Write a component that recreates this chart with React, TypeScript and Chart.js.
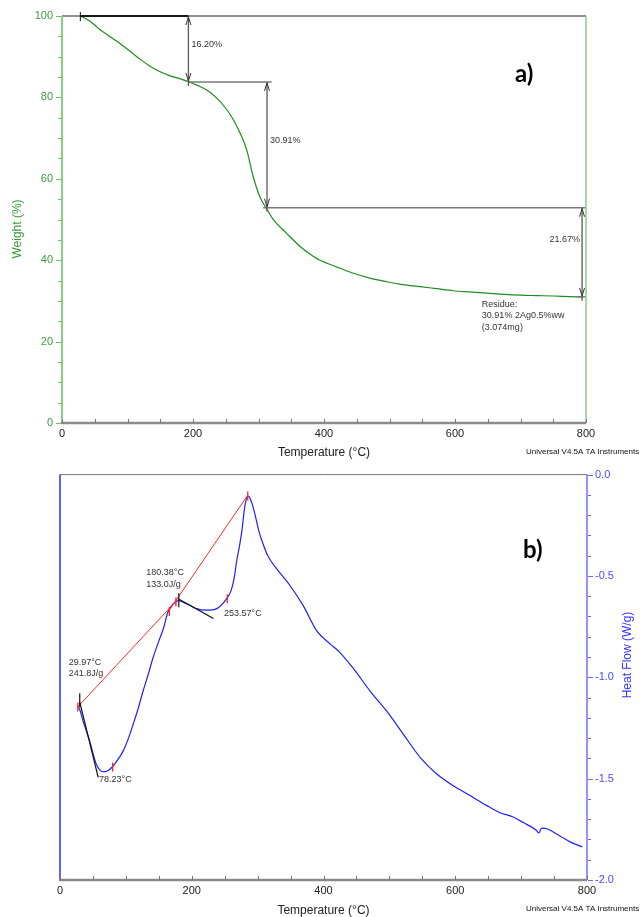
import React, { useEffect, useRef } from 'react';
import { Chart, registerables } from 'chart.js';
Chart.register(...registerables);

// ---------------- data: a) TGA ----------------
const xTickValues = [0, 200, 400, 600, 800];
const weightTicks = [0, 20, 40, 60, 80, 100];
const tgaTemp = [28, 38, 50, 58, 70, 89, 105, 119, 135, 150, 165, 180, 194, 208, 221, 236, 252, 262, 272, 282, 292, 302, 313, 323, 343, 364, 384, 394, 420, 445, 470, 496, 520, 547, 572, 597, 622, 649, 675, 700, 725, 750, 775, 795];
const tgaWeight = [100, 99.2, 97.8, 96.6, 95.3, 93.2, 91.2, 89.4, 87.6, 86.3, 85.3, 84.6, 83.8, 82.9, 81.8, 79.9, 76.9, 74.4, 71.2, 67.1, 60.5, 55.6, 52.5, 49.9, 46.6, 43.3, 40.9, 40.0, 38.3, 36.8, 35.6, 34.7, 34.0, 33.5, 33.0, 32.5, 32.2, 31.9, 31.6, 31.4, 31.3, 31.2, 31.05, 30.95];
const stepTemps = [193, 313, 794];
const stepLevels = [100, 83.8, 52.9, 31.0];
const stepLabels = ['16.20%', '30.91%', '21.67%'];
const stepLabelWeights = [93.1, 69.4, 45.0];
const levelStart = [28, 193, 307, 786];
const levelEnd = [193, 320, 800, 800];
const residueText = ['Residue:', '30.91% 2Ag0.5%ww', '(3.074mg)'];
const residueTemp = 641;
const residueWeight = 29.2;

// ---------------- data: b) DSC ----------------
const heatTicks = [0, -0.5, -1.0, -1.5, -2.0];
const dscTemp = [27, 30, 35, 45, 55, 65, 72, 80, 88, 96, 104, 111, 119, 126, 134, 141, 149, 157, 164, 172, 180, 192, 207, 222, 238, 253, 260, 265, 268, 272, 276, 280, 283, 286, 289, 294, 302, 308, 314, 320, 329, 349, 369, 390, 410, 425, 445, 471, 496, 521, 547, 572, 597, 623, 648, 668, 686, 704, 722, 727, 731, 739, 760, 775, 793];
const dscHeatFlow = [-1.146, -1.16, -1.216, -1.314, -1.428, -1.466, -1.462, -1.44, -1.405, -1.363, -1.30, -1.232, -1.15, -1.069, -0.985, -0.906, -0.83, -0.759, -0.677, -0.637, -0.622, -0.637, -0.661, -0.669, -0.661, -0.612, -0.57, -0.50, -0.43, -0.36, -0.28, -0.17, -0.12, -0.106, -0.12, -0.17, -0.28, -0.34, -0.39, -0.425, -0.465, -0.547, -0.645, -0.772, -0.835, -0.878, -0.955, -1.069, -1.167, -1.28, -1.396, -1.477, -1.535, -1.584, -1.633, -1.668, -1.687, -1.718, -1.752, -1.768, -1.744, -1.747, -1.785, -1.813, -1.837];
const baseline1Temp = [27, 176];
const baseline1HF = [-1.146, -0.625];
const baseline2Temp = [166, 284];
const baseline2HF = [-0.669, -0.106];
const tangent1Temp = [30, 58];
const tangent1HF = [-1.122, -1.494];
const tangent2Temp = [180, 233];
const tangent2HF = [-0.614, -0.71];
const limitTemp = [27, 80, 166, 176, 254, 285];
const limitHF = [-1.146, -1.443, -0.675, -0.627, -0.612, -0.106];
const onsetTemp = [29.97, 180.38];
const onsetHF = [-1.113, -0.62];
const dscLabelLines = [['29.97°C', '241.8J/g'], ['180.38°C', '133.0J/g'], ['253.57°C'], ['78.23°C']];
const dscLabelTemp = [13.2, 131, 249, 59.3];
const dscLabelHF = [-0.926, -0.485, -0.686, -1.505];

const FONT = "'Liberation Sans', Arial, Helvetica, sans-serif";

function seg(xs: number[], ys: number[]) {
  return xs.map((x, i) => ({ x, y: ys[i] }));
}
function lineDs(data: any[], color: string, width: number, extra: any = {}) {
  return { data, borderColor: color, borderWidth: width, pointRadius: 0, pointHoverRadius: 0, pointHitRadius: 0, fill: false, tension: 0, clip: false, ...extra };
}
function ln(ctx: CanvasRenderingContext2D, x1: number, y1: number, x2: number, y2: number, color: string, w: number) {
  ctx.beginPath();
  ctx.strokeStyle = color;
  ctx.lineWidth = w;
  ctx.moveTo(x1, y1);
  ctx.lineTo(x2, y2);
  ctx.stroke();
}
function chevron(ctx: CanvasRenderingContext2D, px: number, tipY: number, dir: number) {
  ctx.beginPath();
  ctx.strokeStyle = '#333';
  ctx.lineWidth = 1;
  ctx.moveTo(px - 2.5, tipY - dir * 8);
  ctx.lineTo(px, tipY);
  ctx.lineTo(px + 2.5, tipY - dir * 8);
  ctx.stroke();
}
function txt(ctx: CanvasRenderingContext2D, s: string, x: number, y: number, font: string, color: string, align: CanvasTextAlign = 'left', rot = 0) {
  ctx.save();
  ctx.font = font;
  ctx.fillStyle = color;
  ctx.textAlign = align;
  ctx.textBaseline = 'middle';
  ctx.translate(x, y);
  if (rot) ctx.rotate(rot);
  ctx.fillText(s, 0, 0);
  ctx.restore();
}

function xScaleOpts() {
  return {
    type: 'linear', min: 0, max: 800,
    afterBuildTicks: (s: any) => { s.ticks = xTickValues.map((v) => ({ value: v })); },
    ticks: { color: '#222', font: { family: FONT, size: 11 }, padding: 4, maxRotation: 0, autoSkip: false },
    grid: { display: false, drawTicks: false },
    border: { display: false },
    afterFit: (s: any) => { s.height = 37; },
  };
}

const tgaDecor = {
  id: 'tgaDecor',
  afterDraw(chart: any) {
    const { ctx, chartArea: ca } = chart;
    const x = chart.scales.x, y = chart.scales.y;
    ctx.save();
    ln(ctx, ca.left, ca.top, ca.right, ca.top, '#222', 1);
    ln(ctx, ca.right, ca.top, ca.right, ca.bottom, '#86cf86', 1.5);
    ln(ctx, ca.left, ca.top, ca.left, ca.bottom, '#86cf86', 2);
    ln(ctx, ca.left - 1, ca.bottom, ca.right, ca.bottom, '#8a8a8a', 2.5);
    for (let v = 0; v <= 100; v += 5) {
      const py = Math.round(y.getPixelForValue(v)) + 0.5;
      const len = v % 20 === 0 ? 5 : 3;
      ln(ctx, ca.left - 1 - len, py, ca.left - 1, py, '#6cbf6c', 1);
    }
    for (let v = 0; v <= 800; v += 50) {
      const px = Math.round(x.getPixelForValue(v)) + 0.5;
      ln(ctx, px, ca.bottom - 4, px, ca.bottom, '#777', 1);
    }
    const sx = x.getPixelForValue(levelStart[0]);
    const sy = y.getPixelForValue(stepLevels[0]);
    ln(ctx, sx, sy - 4, sx, sy + 5, '#111', 1);
    stepTemps.forEach((t, i) => {
      const px = x.getPixelForValue(t);
      const yTop = y.getPixelForValue(stepLevels[i]);
      const yBot = y.getPixelForValue(stepLevels[i + 1]);
      chevron(ctx, px, yTop + 1, -1);
      chevron(ctx, px, yBot - 1, 1);
      ln(ctx, px, yBot, px, yBot + 4, '#5a5a5a', 1.3);
      const ly = y.getPixelForValue(stepLabelWeights[i]);
      if (i < 2) txt(ctx, stepLabels[i], px + 3, ly, `9px ${FONT}`, '#333', 'left');
      else txt(ctx, stepLabels[i], px - 2, ly, `9px ${FONT}`, '#333', 'right');
    });
    const rx = x.getPixelForValue(residueTemp);
    const ry = y.getPixelForValue(residueWeight);
    residueText.forEach((s, i) => txt(ctx, s, rx, ry + i * 11.8, `9px ${FONT}`, '#333', 'left'));
    txt(ctx, 'Weight (%)', 18, 229, `12px ${FONT}`, '#3a9a3a', 'center', -Math.PI / 2);
    txt(ctx, 'Temperature (°C)', (ca.left + ca.right) / 2, 453, `12px ${FONT}`, '#222', 'center');
    txt(ctx, 'Universal V4.5A TA Instruments', 526, 452, `8px ${FONT}`, '#111', 'left');
    txt(ctx, 'a)', 515, 74, `bold 24px Lato, 'Open Sans', sans-serif`, '#000', 'left');
    ctx.restore();
  },
};

const dscDecor = {
  id: 'dscDecor',
  afterDraw(chart: any) {
    const { ctx, chartArea: ca } = chart;
    const x = chart.scales.x, y = chart.scales.y;
    ctx.save();
    ln(ctx, ca.left, ca.top, ca.right, ca.top, '#777', 1);
    ln(ctx, ca.left, ca.top, ca.left, ca.bottom, '#2b2bff', 1.5);
    ln(ctx, ca.right, ca.top, ca.right, ca.bottom, '#7070ff', 1.5);
    ln(ctx, ca.left - 1, ca.bottom, ca.right, ca.bottom, '#8a8a8a', 2.5);
    for (let k = 0; k <= 20; k++) {
      const v = -k / 10;
      const py = Math.round(y.getPixelForValue(v)) + 0.5;
      const len = k % 5 === 0 ? 5 : 3;
      ln(ctx, ca.right + 1, py, ca.right + 1 + len, py, '#6b6bff', 1);
    }
    for (let v = 0; v <= 800; v += 50) {
      const px = Math.round(x.getPixelForValue(v)) + 0.5;
      ln(ctx, px, ca.bottom - 4, px, ca.bottom, '#777', 1);
    }
    limitTemp.forEach((t, i) => {
      const px = x.getPixelForValue(t), py = y.getPixelForValue(limitHF[i]);
      ln(ctx, px, py - 4.5, px, py + 4.5, '#ff2020', 1.3);
    });
    onsetTemp.forEach((t, i) => {
      const px = x.getPixelForValue(t), py = y.getPixelForValue(onsetHF[i]);
      ln(ctx, px, py - 7, px, py + 7, '#111', 1.2);
    });
    dscLabelLines.forEach((lines, i) => {
      const px = x.getPixelForValue(dscLabelTemp[i]);
      const py = y.getPixelForValue(dscLabelHF[i]);
      lines.forEach((s, j) => txt(ctx, s, px, py + j * 11.2, `9px ${FONT}`, '#333', 'left'));
    });
    txt(ctx, 'Heat Flow (W/g)', 628, 195, `12px ${FONT}`, '#3535ff', 'center', -Math.PI / 2);
    txt(ctx, 'Temperature (°C)', (ca.left + ca.right) / 2, 451, `12px ${FONT}`, '#222', 'center');
    txt(ctx, 'Universal V4.5A TA Instruments', 526, 449, `8px ${FONT}`, '#111', 'left');
    txt(ctx, 'b)', 523, 90, `bold 24px Lato, 'Open Sans', sans-serif`, '#000', 'left');
    ctx.restore();
  },
};

export default function App() {
  const refA = useRef<HTMLCanvasElement>(null);
  const refB = useRef<HTMLCanvasElement>(null);

  useEffect(() => {
    const tgaDatasets: any[] = [
      ...stepTemps.map((t, i) => lineDs(seg([t, t], [stepLevels[i], stepLevels[i + 1]]), '#5a5a5a', 1.3)),
      ...levelStart.map((s, j) => lineDs(seg([s, levelEnd[j]], [stepLevels[j], stepLevels[j]]), j === 0 ? '#111' : '#7a7a7a', j === 0 ? 2 : 1.5)),
      lineDs(seg(tgaTemp, tgaWeight), '#1e8c1e', 1.2, { cubicInterpolationMode: 'monotone' }),
    ];
    const chartA = new Chart(refA.current!, {
      type: 'line',
      data: { datasets: tgaDatasets },
      options: {
        responsive: false, animation: false, devicePixelRatio: 1, events: [],
        layout: { padding: { left: 0, right: 56, top: 16, bottom: 0 } },
        plugins: { legend: { display: false }, tooltip: { enabled: false } },
        scales: {
          x: xScaleOpts() as any,
          y: {
            type: 'linear', position: 'left', min: 0, max: 100,
            afterBuildTicks: (s: any) => { s.ticks = weightTicks.map((v) => ({ value: v })); },
            ticks: { color: '#3f9b3f', font: { family: FONT, size: 11 }, padding: 9, autoSkip: false },
            grid: { display: false, drawTicks: false },
            border: { display: false },
            afterFit: (s: any) => { s.width = 62; },
          } as any,
        },
      },
      plugins: [tgaDecor],
    } as any);

    const dscDatasets: any[] = [
      lineDs(seg(tangent1Temp, tangent1HF), '#111', 1.2),
      lineDs(seg(tangent2Temp, tangent2HF), '#111', 1.2),
      lineDs(seg(baseline1Temp, baseline1HF), '#ff2a2a', 1),
      lineDs(seg(baseline2Temp, baseline2HF), '#ff2a2a', 1),
      lineDs(seg(dscTemp, dscHeatFlow), '#1f1fff', 1.2, { cubicInterpolationMode: 'monotone' }),
    ];
    const chartB = new Chart(refB.current!, {
      type: 'line',
      data: { datasets: dscDatasets },
      options: {
        responsive: false, animation: false, devicePixelRatio: 1, events: [],
        layout: { padding: { left: 60, right: 0, top: 12, bottom: 0 } },
        plugins: { legend: { display: false }, tooltip: { enabled: false } },
        scales: {
          x: xScaleOpts() as any,
          y: {
            type: 'linear', position: 'right', min: -2, max: 0,
            afterBuildTicks: (s: any) => { s.ticks = heatTicks.map((v) => ({ value: v })); },
            ticks: { color: '#4b4bff', font: { family: FONT, size: 11 }, padding: 8, autoSkip: false, callback: (v: any) => Number(v).toFixed(1) },
            grid: { display: false, drawTicks: false },
            border: { display: false },
            afterFit: (s: any) => { s.width = 55; },
          } as any,
        },
      },
      plugins: [dscDecor],
    } as any);

    return () => {
      chartA.destroy();
      chartB.destroy();
    };
  }, []);

  return (
    <div style={{ position: 'absolute', left: 0, top: 0, width: 642, height: 917, background: '#fff' }}>
      <canvas ref={refA} width={642} height={460} style={{ position: 'absolute', left: 0, top: 0 }} />
      <canvas ref={refB} width={642} height={457} style={{ position: 'absolute', left: 0, top: 460 }} />
    </div>
  );
}
